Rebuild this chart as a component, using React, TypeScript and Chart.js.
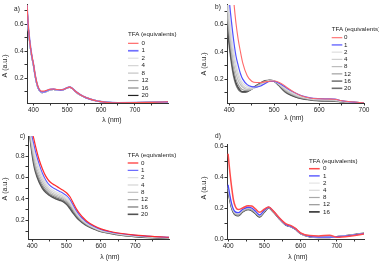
import React, { useEffect, useRef } from "react";
import { Chart, registerables } from "chart.js";
Chart.register(...registerables);

const FONT = "'Liberation Sans', Arial, sans-serif";

const LABELS_8 = ["0", "1", "2", "4", "8", "12", "16", "20"];
const LABELS_7 = ["0", "1", "2", "4", "8", "12", "16"];

// Panel a
const A_WL = [380, 384, 388, 392, 396, 400, 405, 410, 415, 420, 425, 430, 440, 450, 460, 470, 480, 490, 500, 507, 515, 525, 540, 555, 570, 585, 600, 620, 650, 700, 750, 800];
const A_S0 = [0.80, 0.62, 0.50, 0.42, 0.36, 0.31, 0.23, 0.17, 0.132, 0.112, 0.106, 0.106, 0.113, 0.120, 0.122, 0.118, 0.116, 0.120, 0.131, 0.136, 0.126, 0.103, 0.077, 0.058, 0.045, 0.035, 0.028, 0.022, 0.020, 0.021, 0.023, 0.027];
const A_S1 = [0.79, 0.61, 0.50, 0.42, 0.355, 0.305, 0.225, 0.165, 0.127, 0.107, 0.100, 0.100, 0.110, 0.119, 0.121, 0.116, 0.114, 0.119, 0.131, 0.136, 0.126, 0.103, 0.077, 0.058, 0.045, 0.035, 0.028, 0.022, 0.020, 0.021, 0.023, 0.027];
const A_S2 = [0.78, 0.60, 0.49, 0.41, 0.35, 0.30, 0.22, 0.162, 0.124, 0.104, 0.097, 0.098, 0.108, 0.117, 0.119, 0.114, 0.113, 0.118, 0.130, 0.135, 0.125, 0.102, 0.076, 0.058, 0.045, 0.035, 0.028, 0.022, 0.020, 0.021, 0.023, 0.027];
const A_S4 = [0.78, 0.60, 0.49, 0.41, 0.35, 0.30, 0.22, 0.161, 0.123, 0.103, 0.096, 0.097, 0.107, 0.117, 0.119, 0.114, 0.112, 0.118, 0.130, 0.135, 0.125, 0.102, 0.076, 0.058, 0.045, 0.035, 0.028, 0.022, 0.019, 0.020, 0.022, 0.026];
const A_S8 = [0.78, 0.60, 0.49, 0.41, 0.35, 0.30, 0.22, 0.160, 0.122, 0.102, 0.096, 0.096, 0.106, 0.116, 0.118, 0.113, 0.112, 0.118, 0.130, 0.135, 0.125, 0.102, 0.076, 0.058, 0.045, 0.035, 0.027, 0.021, 0.019, 0.020, 0.022, 0.026];
const A_S12 = [0.78, 0.60, 0.49, 0.41, 0.35, 0.30, 0.22, 0.160, 0.122, 0.102, 0.095, 0.096, 0.106, 0.116, 0.118, 0.113, 0.112, 0.118, 0.130, 0.135, 0.125, 0.102, 0.076, 0.058, 0.045, 0.035, 0.027, 0.021, 0.019, 0.020, 0.022, 0.026];
const A_S16 = [0.78, 0.60, 0.49, 0.41, 0.35, 0.30, 0.22, 0.160, 0.122, 0.102, 0.095, 0.096, 0.106, 0.116, 0.118, 0.113, 0.112, 0.118, 0.130, 0.135, 0.125, 0.102, 0.076, 0.058, 0.045, 0.035, 0.028, 0.022, 0.020, 0.021, 0.023, 0.027];
const A_S20 = [0.78, 0.60, 0.49, 0.41, 0.35, 0.30, 0.22, 0.160, 0.122, 0.102, 0.095, 0.096, 0.106, 0.116, 0.118, 0.113, 0.112, 0.118, 0.130, 0.135, 0.125, 0.102, 0.076, 0.058, 0.045, 0.035, 0.028, 0.022, 0.020, 0.021, 0.023, 0.027];

// Panel b
const B_WL = [395, 400, 405, 410, 415, 420, 425, 430, 440, 450, 460, 470, 480, 490, 500, 510, 520, 530, 545, 560, 580, 600, 620, 635, 650, 670, 700];
const B_S0 = [1.25, 1.08, 0.92, 0.77, 0.61, 0.49, 0.40, 0.32, 0.225, 0.185, 0.175, 0.175, 0.180, 0.185, 0.186, 0.178, 0.160, 0.135, 0.103, 0.078, 0.062, 0.056, 0.054, 0.052, 0.042, 0.034, 0.027];
const B_S1 = [1.00, 0.78, 0.62, 0.48, 0.37, 0.30, 0.24, 0.20, 0.160, 0.145, 0.142, 0.150, 0.168, 0.183, 0.184, 0.172, 0.152, 0.130, 0.102, 0.080, 0.063, 0.057, 0.055, 0.053, 0.042, 0.033, 0.027];
const B_S2 = [0.88, 0.68, 0.52, 0.40, 0.31, 0.245, 0.20, 0.172, 0.145, 0.137, 0.142, 0.156, 0.173, 0.186, 0.185, 0.168, 0.145, 0.122, 0.095, 0.074, 0.059, 0.053, 0.051, 0.049, 0.039, 0.032, 0.026];
const B_S4 = [0.80, 0.62, 0.47, 0.36, 0.28, 0.22, 0.18, 0.155, 0.133, 0.130, 0.140, 0.157, 0.176, 0.188, 0.186, 0.166, 0.140, 0.116, 0.090, 0.071, 0.057, 0.051, 0.049, 0.047, 0.038, 0.031, 0.026];
const B_S8 = [0.74, 0.57, 0.42, 0.31, 0.24, 0.19, 0.16, 0.140, 0.124, 0.128, 0.143, 0.162, 0.180, 0.190, 0.187, 0.163, 0.134, 0.110, 0.085, 0.067, 0.054, 0.048, 0.046, 0.044, 0.037, 0.031, 0.026];
const B_S12 = [0.68, 0.52, 0.38, 0.27, 0.20, 0.16, 0.135, 0.122, 0.116, 0.128, 0.148, 0.168, 0.184, 0.191, 0.186, 0.160, 0.128, 0.103, 0.079, 0.063, 0.051, 0.045, 0.043, 0.041, 0.035, 0.030, 0.025];
const B_S16 = [0.63, 0.47, 0.34, 0.24, 0.175, 0.14, 0.118, 0.108, 0.110, 0.129, 0.152, 0.172, 0.187, 0.192, 0.186, 0.157, 0.123, 0.097, 0.074, 0.059, 0.049, 0.043, 0.041, 0.039, 0.034, 0.030, 0.025];
const B_S20 = [0.60, 0.45, 0.32, 0.22, 0.160, 0.127, 0.110, 0.104, 0.108, 0.128, 0.152, 0.173, 0.188, 0.192, 0.185, 0.155, 0.120, 0.095, 0.072, 0.058, 0.048, 0.042, 0.040, 0.039, 0.034, 0.030, 0.025];

// Panel c
const C_WL = [390, 395, 400, 405, 410, 420, 430, 440, 450, 460, 470, 480, 490, 500, 510, 520, 530, 540, 550, 560, 580, 600, 625, 650, 700, 750, 800];
const C_S0 = [1.30, 1.15, 1.03, 0.96, 0.89, 0.77, 0.68, 0.61, 0.565, 0.540, 0.520, 0.500, 0.480, 0.458, 0.420, 0.360, 0.300, 0.255, 0.220, 0.190, 0.150, 0.120, 0.098, 0.082, 0.062, 0.050, 0.042];
const C_S1 = [1.26, 1.10, 0.98, 0.91, 0.84, 0.73, 0.64, 0.575, 0.530, 0.505, 0.487, 0.470, 0.452, 0.430, 0.395, 0.338, 0.283, 0.240, 0.207, 0.180, 0.142, 0.114, 0.094, 0.079, 0.060, 0.049, 0.041];
const C_S2 = [1.22, 1.06, 0.94, 0.86, 0.79, 0.69, 0.61, 0.550, 0.505, 0.482, 0.465, 0.450, 0.433, 0.412, 0.378, 0.324, 0.272, 0.231, 0.199, 0.173, 0.137, 0.110, 0.091, 0.076, 0.058, 0.047, 0.040];
const C_S4 = [1.19, 1.03, 0.91, 0.83, 0.76, 0.66, 0.585, 0.530, 0.488, 0.465, 0.450, 0.435, 0.420, 0.398, 0.365, 0.313, 0.263, 0.224, 0.193, 0.168, 0.133, 0.107, 0.089, 0.074, 0.056, 0.046, 0.039];
const C_S8 = [1.16, 1.00, 0.88, 0.80, 0.72, 0.63, 0.560, 0.510, 0.472, 0.450, 0.435, 0.422, 0.408, 0.386, 0.354, 0.303, 0.255, 0.217, 0.188, 0.163, 0.129, 0.104, 0.087, 0.072, 0.054, 0.044, 0.037];
const C_S12 = [1.14, 0.98, 0.86, 0.77, 0.69, 0.60, 0.535, 0.490, 0.456, 0.436, 0.422, 0.410, 0.396, 0.374, 0.342, 0.294, 0.247, 0.210, 0.182, 0.158, 0.126, 0.101, 0.084, 0.070, 0.052, 0.042, 0.035];
const C_S16 = [1.12, 0.96, 0.84, 0.74, 0.67, 0.58, 0.515, 0.472, 0.444, 0.424, 0.410, 0.398, 0.385, 0.362, 0.325, 0.280, 0.235, 0.202, 0.175, 0.153, 0.122, 0.097, 0.081, 0.067, 0.050, 0.040, 0.033];
const C_S20 = [1.10, 0.95, 0.82, 0.72, 0.65, 0.56, 0.500, 0.460, 0.435, 0.415, 0.400, 0.388, 0.375, 0.350, 0.310, 0.265, 0.225, 0.195, 0.170, 0.150, 0.120, 0.095, 0.080, 0.065, 0.048, 0.038, 0.032];

// Panel d
const D_WL = [400, 405, 410, 415, 420, 428, 440, 455, 465, 475, 487, 500, 512, 525, 540, 560, 575, 585, 600, 625, 650, 680, 700, 740, 775];
const D_S0 = [0.55, 0.43, 0.33, 0.25, 0.21, 0.19, 0.20, 0.215, 0.213, 0.195, 0.172, 0.193, 0.207, 0.180, 0.140, 0.097, 0.085, 0.070, 0.040, 0.022, 0.020, 0.025, 0.012, 0.020, 0.032];
const D_S1 = [0.35, 0.28, 0.225, 0.19, 0.175, 0.17, 0.19, 0.205, 0.200, 0.180, 0.155, 0.185, 0.205, 0.180, 0.138, 0.093, 0.080, 0.067, 0.037, 0.017, 0.012, 0.012, 0.015, 0.024, 0.035];
const D_S2 = [0.34, 0.275, 0.22, 0.187, 0.172, 0.167, 0.188, 0.204, 0.199, 0.179, 0.154, 0.186, 0.207, 0.182, 0.139, 0.094, 0.081, 0.068, 0.038, 0.018, 0.012, 0.012, 0.015, 0.024, 0.035];
const D_S4 = [0.33, 0.27, 0.215, 0.183, 0.168, 0.163, 0.185, 0.201, 0.196, 0.176, 0.151, 0.183, 0.205, 0.180, 0.138, 0.093, 0.080, 0.067, 0.037, 0.017, 0.011, 0.011, 0.015, 0.024, 0.035];
const D_S8 = [0.32, 0.26, 0.208, 0.177, 0.162, 0.157, 0.180, 0.196, 0.190, 0.171, 0.148, 0.179, 0.202, 0.178, 0.136, 0.092, 0.079, 0.066, 0.036, 0.016, 0.011, 0.011, 0.015, 0.025, 0.036];
const D_S12 = [0.315, 0.255, 0.204, 0.173, 0.158, 0.153, 0.177, 0.193, 0.186, 0.168, 0.145, 0.177, 0.201, 0.176, 0.135, 0.091, 0.078, 0.065, 0.035, 0.015, 0.010, 0.010, 0.015, 0.025, 0.036];
const D_S16 = [0.31, 0.25, 0.20, 0.17, 0.155, 0.150, 0.175, 0.190, 0.183, 0.165, 0.143, 0.175, 0.200, 0.175, 0.135, 0.090, 0.078, 0.065, 0.035, 0.015, 0.010, 0.010, 0.015, 0.025, 0.037];

type Panel = {
  tag: string;
  left: number; top: number; width: number; height: number;
  area: { l: number; t: number; r: number; b: number };
  xMin: number; xMax: number; yMin: number; yMax: number;
  wl: number[]; series: number[][]; labels: string[]; colors: string[]; widths: number[];
  tagPos: [number, number]; yTitlePos: [number, number]; xTitlePos: [number, number];
  legend: { x: number; y: number; dy: number; lineW: number; textX: number; firstY: number };
};

const PANELS: Panel[] = [
  {
    tag: "a)", left: 0, top: 0, width: 189, height: 131,
    area: { l: 27, t: 1, r: 168, b: 103 },
    xMin: 381, xMax: 798, yMin: 0.018, yMax: 0.745,
    wl: A_WL, series: [A_S0, A_S1, A_S2, A_S4, A_S8, A_S12, A_S16, A_S20], labels: LABELS_8,
    colors: ["#ff5a5a", "#7070ff", "#e0e0e0", "#d4d4d4", "#c4c4c4", "#aaaaaa", "#888888", "#222222"],
    widths: [1.1, 1.7, 1.2, 1.2, 1.2, 1.2, 1.2, 1.2],
    tagPos: [17, 9.5], yTitlePos: [5, 66], xTitlePos: [112, 120],
    legend: { x: 128, y: 34, dy: 7.45, lineW: 10.5, textX: 141.5, firstY: 43.3 },
  },
  {
    tag: "b)", left: 189, top: 0, width: 190, height: 131,
    area: { l: 38, t: 1, r: 175, b: 103 },
    xMin: 395, xMax: 700, yMin: 0.025, yMax: 0.745,
    wl: B_WL, series: [B_S0, B_S1, B_S2, B_S4, B_S8, B_S12, B_S16, B_S20], labels: LABELS_8,
    colors: ["#ff6a6a", "#5050ff", "#dedede", "#d0d0d0", "#bdbdbd", "#a0a0a0", "#4a4a4a", "#6e6e6e"],
    widths: [1.1, 1.2, 1.2, 1.2, 1.2, 1.2, 1.2, 1.6],
    tagPos: [29, 7], yTitlePos: [15, 64], xTitlePos: [105, 118],
    legend: { x: 142.7, y: 29.3, dy: 7.23, lineW: 10.6, textX: 155, firstY: 37.7 },
  },
  {
    tag: "c)", left: 0, top: 131, width: 189, height: 131,
    area: { l: 28, t: 5, r: 169, b: 108 },
    xMin: 388, xMax: 798, yMin: 0.026, yMax: 0.987,
    wl: C_WL, series: [C_S0, C_S1, C_S2, C_S4, C_S8, C_S12, C_S16, C_S20], labels: LABELS_8,
    colors: ["#ff2a2a", "#5a5aff", "#e0e0e0", "#d4d4d4", "#c2c2c2", "#a6a6a6", "#747474", "#525252"],
    widths: [1.2, 1.1, 1.2, 1.2, 1.2, 1.2, 1.2, 1.6],
    tagPos: [22.5, 5.3], yTitlePos: [5, 58], xTitlePos: [110, 126],
    legend: { x: 127.7, y: 24, dy: 7.33, lineW: 10.6, textX: 141, firstY: 32 },
  },
  {
    tag: "d)", left: 189, top: 131, width: 190, height: 131,
    area: { l: 38, t: 13, r: 175, b: 108 },
    xMin: 397, xMax: 775, yMin: 0, yMax: 0.613,
    wl: D_WL, series: [D_S0, D_S1, D_S2, D_S4, D_S8, D_S12, D_S16], labels: LABELS_7,
    colors: ["#ff4a4a", "#4a4aff", "#e4e4e4", "#d8d8d8", "#a8a8a8", "#969696", "#303030"],
    widths: [1.5, 1.3, 1.2, 1.2, 1.2, 1.2, 1.6],
    tagPos: [29, 5.3], yTitlePos: [15, 57], xTitlePos: [109, 126],
    legend: { x: 120, y: 30.7, dy: 7.2, lineW: 10.7, textX: 134, firstY: 37.7 },
  },
];

function makeDecor(p: Panel) {
  return {
    id: "decor" + p.tag,
    afterDraw(chart: any) {
      const ctx = chart.ctx as CanvasRenderingContext2D;
      ctx.save();
      ctx.fillStyle = "#222";
      ctx.textBaseline = "middle";
      ctx.font = `6.5px ${FONT}`;
      ctx.textAlign = "center";
      ctx.fillText(p.tag, p.tagPos[0], p.tagPos[1]);
      ctx.font = `6.8px ${FONT}`;
      ctx.fillText("\u03bb (nm)", p.xTitlePos[0], p.xTitlePos[1]);
      ctx.save();
      ctx.translate(p.yTitlePos[0], p.yTitlePos[1]);
      ctx.rotate(-Math.PI / 2);
      ctx.font = `7px ${FONT}`;
      ctx.fillText("A (a.u.)", 0, 0);
      ctx.restore();
      // legend
      ctx.textAlign = "left";
      ctx.font = `6.2px ${FONT}`;
      ctx.fillText("TFA (equivalents)", p.legend.x, p.legend.y);
      chart.data.datasets.forEach((ds: any, i: number) => {
        const y = p.legend.firstY + i * p.legend.dy;
        ctx.strokeStyle = ds.borderColor;
        ctx.lineWidth = ds.borderWidth;
        ctx.beginPath();
        ctx.moveTo(p.legend.x, y);
        ctx.lineTo(p.legend.x + p.legend.lineW, y);
        ctx.stroke();
        ctx.fillStyle = "#222";
        ctx.fillText(ds.label, p.legend.textX, y);
      });
      ctx.restore();
    },
  };
}

function PanelChart({ p }: { p: Panel }) {
  const ref = useRef<HTMLCanvasElement | null>(null);
  useEffect(() => {
    if (!ref.current) return;
    const datasets = p.series.map((s, i) => ({
      label: p.labels[i],
      data: p.wl.map((x, j) => ({ x, y: s[j] })),
      borderColor: p.colors[i],
      borderWidth: p.widths[i],
      pointRadius: 0,
      fill: false,
      cubicInterpolationMode: "monotone" as const,
      order: i < 2 ? 0 : 1,
    }));
    const tickFont = { size: 6.5, family: FONT };
    const chart = new Chart(ref.current, {
      type: "line",
      data: { datasets },
      options: {
        animation: false,
        responsive: false,
        maintainAspectRatio: false,
        layout: { padding: { left: 0, top: p.area.t, right: p.width - p.area.r, bottom: 0 } },
        plugins: { legend: { display: false }, tooltip: { enabled: false } },
        scales: {
          x: {
            type: "linear",
            min: p.xMin,
            max: p.xMax,
            afterFit: (s: any) => { s.height = p.height - p.area.b; },
            ticks: {
              stepSize: 50,
              includeBounds: false,
              autoSkip: false,
              maxRotation: 0,
              padding: 1,
              font: tickFont,
              color: "#222",
              callback: (v: any) => (Math.round(v) % 100 === 0 ? String(Math.round(v)) : ""),
            },
            grid: { display: true, drawOnChartArea: false, drawTicks: true, tickLength: 2.5, color: "#333" },
            border: { display: true, color: "#333", width: 1 },
          },
          y: {
            type: "linear",
            min: p.yMin,
            max: p.yMax,
            afterFit: (s: any) => { s.width = p.area.l; },
            ticks: {
              stepSize: 0.1,
              includeBounds: false,
              autoSkip: false,
              padding: 1,
              font: tickFont,
              color: "#222",
              callback: (v: any) => (Math.round(v * 10) % 2 === 0 ? Number(v).toFixed(1) : ""),
            },
            grid: { display: true, drawOnChartArea: false, drawTicks: true, tickLength: 2.5, color: "#333" },
            border: { display: true, color: "#333", width: 1 },
          },
        },
      },
      plugins: [makeDecor(p)],
    } as any);
    return () => chart.destroy();
  }, [p]);
  return (
    <canvas
      ref={ref}
      width={p.width}
      height={p.height}
      style={{ position: "absolute", left: p.left, top: p.top, width: p.width, height: p.height }}
    />
  );
}

export default function App() {
  return (
    <div style={{ position: "absolute", left: 0, top: 0, width: 379, height: 262, background: "#fff", overflow: "hidden" }}>
      {PANELS.map((p) => (
        <PanelChart key={p.tag} p={p} />
      ))}
    </div>
  );
}
